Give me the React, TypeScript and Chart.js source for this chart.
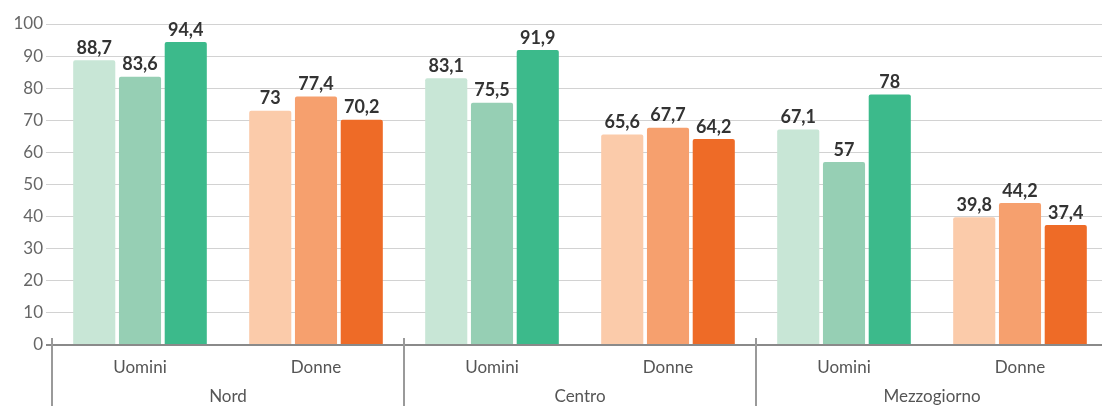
import React, { useEffect, useRef } from "react";
import { Chart, registerables } from "chart.js";

Chart.register(...registerables);

const categories = ["Uomini", "Donne", "Uomini", "Donne", "Uomini", "Donne"];
const groups = ["Nord", "Centro", "Mezzogiorno"];
const series1 = [88.7, 73, 83.1, 65.6, 67.1, 39.8];
const series2 = [83.6, 77.4, 75.5, 67.7, 57, 44.2];
const series3 = [94.4, 70.2, 91.9, 64.2, 78, 37.4];
const seriesNames = ["Serie 1", "Serie 2", "Serie 3"];
const menColors = ["#c8e6d6", "#96cfb4", "#3cba8b"];
const womenColors = ["#fbcbaa", "#f6a06e", "#ee6b27"];
const yMin = 0;
const yMax = 100;
const yStep = 10;

const FONT = "Lato, 'Noto Sans', sans-serif";

const fmt = (v: number) => String(v).replace(".", ",");

const overlayPlugin = {
  id: "overlay",
  afterDatasetsDraw(chart: any) {
    const ctx = chart.ctx;
    ctx.save();
    ctx.font = `bold 18px ${FONT}`;
    ctx.fillStyle = "#333333";
    ctx.textAlign = "center";
    ctx.textBaseline = "bottom";
    chart.data.datasets.forEach((ds: any, i: number) => {
      const meta = chart.getDatasetMeta(i);
      meta.data.forEach((bar: any, j: number) => {
        ctx.fillText(fmt(ds.data[j]), bar.x, bar.y - 3);
      });
    });
    ctx.restore();
  },
  afterDraw(chart: any) {
    const ctx = chart.ctx;
    const xs = chart.scales.x;
    const area = chart.chartArea;
    const catW = (xs.right - xs.left) / categories.length;
    ctx.save();
    ctx.strokeStyle = "#9a9a9a";
    ctx.lineWidth = 2;
    for (let k = 0; k <= groups.length; k++) {
      const x = Math.round(xs.left + k * 2 * catW);
      ctx.beginPath();
      ctx.moveTo(x, area.bottom - 7);
      ctx.lineTo(x, chart.height);
      ctx.stroke();
    }
    ctx.font = `17px ${FONT}`;
    ctx.fillStyle = "#555555";
    ctx.textAlign = "center";
    ctx.textBaseline = "middle";
    groups.forEach((g, k) => {
      const cx = xs.left + (k * 2 + 1) * catW;
      ctx.fillText(g, cx, 397);
    });
    ctx.restore();
  },
};

export default function App() {
  const ref = useRef<HTMLCanvasElement | null>(null);

  useEffect(() => {
    document.body.style.margin = "0";
    document.body.style.overflow = "hidden";
    const canvas = ref.current;
    if (!canvas) return;
    const data = [series1, series2, series3];
    const chart = new Chart(canvas, {
      type: "bar",
      data: {
        labels: categories,
        datasets: data.map((d, i) => ({
          label: seriesNames[i],
          data: d,
          backgroundColor: categories.map((c) => (c === "Uomini" ? menColors[i] : womenColors[i])),
          borderRadius: { topLeft: 2, topRight: 2, bottomLeft: 0, bottomRight: 0 },
          borderSkipped: false,
          categoryPercentage: 0.78,
          barPercentage: 0.92,
        })),
      },
      options: {
        responsive: false,
        animation: false,
        devicePixelRatio: 1,
        layout: { padding: { top: 24, right: 0, bottom: 0, left: 0 } },
        plugins: {
          legend: { display: false },
          tooltip: { enabled: false },
        },
        scales: {
          x: {
            grid: { display: false, drawTicks: false },
            border: { display: false },
            ticks: {
              font: { family: FONT, size: 17 },
              color: "#555555",
              padding: 12,
              maxRotation: 0,
              autoSkip: false,
            },
            afterFit(scale: any) {
              scale.height = 61;
            },
          },
          y: {
            min: yMin,
            max: yMax,
            border: { display: false },
            grid: {
              color: (c: any) => (c.tick && c.tick.value === 0 ? "#8a8a8a" : "#d2d2d2"),
              lineWidth: (c: any) => (c.tick && c.tick.value === 0 ? 2 : 1),
              tickLength: 6,
              drawTicks: true,
            },
            ticks: {
              stepSize: yStep,
              font: { family: FONT, size: 17 },
              color: "#666666",
              padding: 3,
            },
            afterFit(scale: any) {
              scale.width = 52;
            },
          },
        },
      },
      plugins: [overlayPlugin],
    });
    return () => chart.destroy();
  }, []);

  return (
    <div style={{ width: 1102, height: 406, overflow: "hidden", position: "relative" }}>
      <canvas ref={ref} width={1108} height={406} style={{ display: "block" }} />
    </div>
  );
}
